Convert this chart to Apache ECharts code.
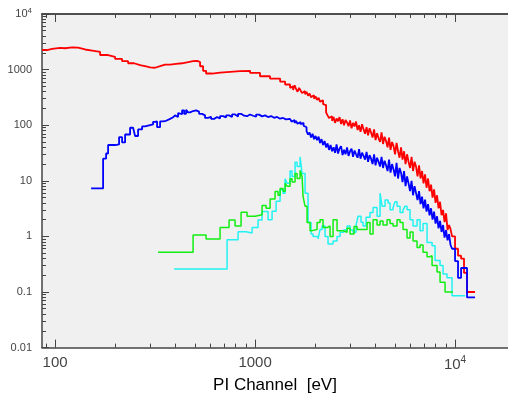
<!DOCTYPE html>
<html>
<head>
<meta charset="utf-8">
<script src="https://cdn.jsdelivr.net/npm/echarts@6/dist/echarts.min.js"></script>
<style>
  html, body { margin: 0; padding: 0; background: #fff; }
  #chart { width: 508px; height: 399px; }
</style>
</head>
<body>
<div id="chart"></div>
<script>
// spectra: [PI channel (eV), counts]
const redSpectrum = [
  [86, 2250], [91.2, 2350], [96.6, 2450], [105.9, 2420], [112.2, 2500], [121.6, 2480], [130.3, 2300], [141.3, 2200],
  [153.2, 2080], [167.9, 1830], [184.0, 1700], [199.5, 1560], [216.2, 1420], [231.8, 1300], [248.3, 1200], [266.1, 1140],
  [285.1, 1100], [298.5, 1080], [316.2, 1150], [334.9, 1230], [354.8, 1230], [375.8, 1270], [402.7, 1300], [431.5, 1360],
  [462.4, 1420], [489.8, 1440], [512.9, 1370], [530.9, 1150], [549.6, 950], [568.8, 850], [609.5, 880], [668.4, 910],
  [749.9, 940], [841.4, 950], [944.2, 870], [1059, 760], [1188, 690], [1334, 610], [1413, 540],
  [1496, 470], [1522, 500], [1549, 430], [1576, 520], [1603, 450], [1631, 400], [1660, 470], [1689, 420], [1718, 380], [1748, 410],
  [1778, 360], [1809, 400], [1841, 340], [1873, 370], [1905, 320], [1938, 345], [1972, 300], [2006, 330], [2042, 285], [2078, 310],
  [2113, 265], [2150, 280], [2188, 240], [2226, 230], [2265, 170], [2304, 150], [2344, 135], [2385, 145], [2427, 120], [2469, 140],
  [2512, 110], [2556, 132], [2600, 118], [2645, 140], [2692, 105], [2739, 128], [2786, 100], [2834, 124], [2884, 112], [2934, 96],
  [2985, 122], [3037, 88], [3090, 110], [3144, 95], [3199, 116], [3255, 82], [3311, 100], [3369, 76], [3428, 104], [3488, 84],
  [3548, 70], [3610, 92], [3673, 66], [3737, 88], [3802, 74], [3868, 60], [3936, 84], [4004, 54], [4074, 72], [4145, 58],
  [4217, 50], [4290, 74], [4365, 46], [4441, 62], [4519, 52], [4598, 40], [4677, 60], [4758, 36], [4842, 50], [4926, 42],
  [5012, 30], [5099, 48], [5188, 34], [5278, 26], [5370, 40], [5463, 24], [5559, 34], [5656, 20], [5754, 30], [5854, 22],
  [5957, 17], [6061, 27], [6166, 15], [6273, 22], [6383, 18], [6494, 12], [6607, 19], [6722, 11], [6839, 15], [6958, 9],
  [7079, 13], [7202, 7.5], [7328, 11], [7456, 6.5], [7586, 8.5], [7718, 5], [7852, 7], [7989, 4], [8128, 5.5], [8269, 3.2],
  [8414, 4.2], [8560, 2.4], [8710, 3.0], [8862, 1.8], [9016, 2.6], [9173, 1.3], [9333, 1.6], [9495, 1.35], [9661, 1.0],
  [10000, 0.6], [10350, 0.45], [10720, 0.4], [11090, 0.22], [11480, 0.1], [12590, 0.1]
]
const blueSpectrum = [
  [151.4, 7.3], [173.8, 25], [179.9, 31], [184.1, 44], [199.5, 45], [208.9, 61], [216.3, 49], [223.9, 68], [237.1, 90], [245.5, 85],
  [251.2, 64], [260.0, 84], [272.3, 95], [281.8, 100], [298.5, 103], [309.0, 115], [316.2, 117], [323.6, 92], [335.0, 117], [346.7, 120],
  [358.9, 130], [375.8, 139], [389.0, 150], [398.1, 140], [412.1, 165], [421.7, 158], [431.5, 185], [441.6, 160], [451.9, 190], [462.4, 170],
  [473.2, 180], [489.8, 185], [507.0, 175], [524.8, 160], [543.3, 150], [562.3, 135], [582.1, 142], [602.6, 130], [623.7, 140], [645.7, 132],
  [668.3, 146], [691.8, 138], [716.1, 150], [741.3, 140], [767.4, 156], [794.3, 144], [822.2, 160], [851.1, 148], [881.0, 145], [912.0, 156],
  [944.1, 148], [977.2, 142], [1012, 155], [1047, 144], [1084, 150], [1122, 140], [1161, 146], [1202, 136], [1245, 141], [1288, 131],
  [1334, 135], [1380, 127], [1429, 130],
  [1496, 128], [1522, 116], [1549, 124], [1576, 110], [1603, 120], [1631, 106], [1660, 114], [1689, 104], [1718, 110], [1748, 98],
  [1778, 92], [1809, 78], [1841, 68], [1873, 74], [1905, 60], [1938, 70], [1972, 56], [2006, 64], [2042, 54], [2078, 62],
  [2113, 48], [2150, 56], [2188, 44], [2226, 52], [2265, 40], [2304, 47], [2344, 36], [2385, 44], [2427, 34], [2469, 40],
  [2512, 32], [2556, 45], [2600, 31], [2645, 38], [2692, 42], [2739, 29], [2786, 36], [2834, 30], [2884, 40], [2934, 28],
  [2985, 34], [3037, 38], [3090, 27], [3144, 35], [3199, 30], [3255, 26], [3311, 37], [3369, 25], [3428, 32], [3488, 28],
  [3548, 24], [3610, 33], [3673, 22], [3737, 29], [3802, 25], [3868, 20], [3936, 30], [4004, 19], [4074, 26], [4145, 22],
  [4217, 18], [4290, 27], [4365, 17], [4441, 23], [4519, 19], [4598, 15], [4677, 24], [4758, 14], [4842, 20], [4926, 16],
  [5012, 12], [5099, 21], [5188, 11], [5278, 17], [5370, 14], [5463, 9.5], [5559, 15], [5656, 8], [5754, 12], [5854, 9],
  [5957, 6.5], [6061, 10], [6166, 5.5], [6273, 8], [6383, 6], [6494, 4.5], [6607, 6.5], [6722, 3.8], [6839, 5.2], [6958, 3.2],
  [7079, 4.6], [7202, 2.8], [7328, 3.8], [7456, 2.4], [7586, 3.2], [7718, 2.0], [7852, 2.8], [7989, 1.7], [8128, 2.3], [8269, 1.4],
  [8414, 1.9], [8560, 1.2], [8710, 1.6], [8862, 0.95], [9016, 1.3], [9173, 0.85], [9333, 1.1], [9495, 0.7], [9661, 0.6],
  [10000, 0.36], [10350, 0.18], [10720, 0.27], [11480, 0.08], [12590, 0.08]
]
const greenSpectrum = [
  [327.3, 0.52], [489.8, 1.06], [568.8, 0.9], [668.3, 1.44], [741.3, 1.97], [794.3, 1.54], [851.1, 2.72], [912.0, 2.3], [1000, 2.46], [1084, 3.58],
  [1135, 3.2], [1189, 4.7], [1259, 6.4], [1303, 5.5], [1334, 7.3], [1380, 6.5], [1413, 9.0], [1445, 8.0], [1496, 10.9], [1531, 9.5],
  [1585, 13.5], [1622, 11], [1679, 15.4], [1718, 12], [1738, 5.2], [1778, 3.5], [1820, 1.77], [1884, 1.27], [1928, 1.33], [2042, 1.77],
  [2113, 2.0], [2188, 1.44], [2291, 1.54], [2371, 1.0], [2455, 2.0], [2570, 1.27], [2754, 1.19], [2884, 1.4], [2985, 1.1], [3126, 1.5],
  [3236, 1.33], [3467, 1.33], [3631, 1.77], [3758, 1.1], [3890, 2.0], [4074, 1.6], [4217, 1.9], [4365, 1.6], [4571, 2.0], [4732, 1.7],
  [4898, 1.54], [5129, 2.0], [5309, 1.77], [5495, 1.33], [5754, 0.94], [5957, 1.2], [6166, 0.83], [6457, 0.63], [6683, 0.7], [6918, 0.52],
  [7244, 0.43], [7499, 0.45], [7674, 0.3], [8128, 0.23], [8414, 0.15], [8913, 0.1], [9772, 0.1]
]
const cyanSpectrum = [
  [393.6, 0.26], [724.4, 0.87], [822.2, 1.21], [901.6, 1.15], [966.1, 1.44], [1035, 1.97], [1084, 2.8], [1161, 2.0], [1216, 2.83], [1274, 4.3],
  [1334, 6.9], [1380, 6.0], [1413, 10.9], [1445, 9], [1496, 15], [1531, 12], [1585, 21.6], [1622, 18], [1679, 27], [1718, 13.5],
  [1778, 6.0], [1841, 1.77], [1905, 1.1], [1950, 1.0], [2065, 0.9], [2113, 1.33], [2163, 1.54], [2239, 1.0], [2317, 0.73], [2455, 0.83],
  [2570, 1.0], [2661, 1.19], [2780, 1.3], [2884, 1.54], [2985, 1.3], [3090, 1.19], [3199, 1.6], [3273, 2.3], [3388, 1.8], [3467, 1.54],
  [3589, 2.2], [3758, 2.7], [3890, 3.3], [4074, 2.3], [4217, 6.0], [4315, 3.5], [4467, 4.5], [4624, 4.0], [4732, 3.0], [4898, 3.3],
  [5012, 4.2], [5129, 3.5], [5309, 2.7], [5495, 3.0], [5623, 3.5], [5754, 3.0], [5957, 2.0], [6166, 1.54], [6457, 2.0], [6683, 1.27],
  [6918, 1.7], [7244, 0.78], [7674, 0.68], [7943, 0.37], [8414, 0.3], [8710, 0.21], [9120, 0.18], [9661, 0.086], [11220, 0.086]
]

// tick values
const xMajorTicks = [100, 1000, 10000]
const xMinorTicks = [90, 200, 300, 400, 500, 600, 700, 800, 900, 2000, 3000, 4000, 5000, 6000, 7000, 8000, 9000]
const yMajorTicks = [0.01, 0.1, 1, 10, 100, 1000, 10000]
const yMinorTicks = [
  0.02, 0.03, 0.04, 0.05, 0.06, 0.07, 0.08, 0.09,
  0.2, 0.3, 0.4, 0.5, 0.6, 0.7, 0.8, 0.9,
  2, 3, 4, 5, 6, 7, 8, 9,
  20, 30, 40, 50, 60, 70, 80, 90,
  200, 300, 400, 500, 600, 700, 800, 900,
  2000, 3000, 4000, 5000, 6000, 7000, 8000, 9000
]

const xRange = { min: 86, max: 18400 }
const yRange = { min: 0.01, max: 10000 }

const axisColor = '#444'
const font = 'Liberation Sans, Arial, sans-serif'

// 10^4 written with superscript, the rest plain
const fmtTick = (v) => {
  const p = Math.round(Math.log10(v))
  if (p >= 4) return '{m|10}{s|' + p + '}'
  if (p < 0) return v.toFixed(-p)
  return String(Math.round(v))
}

const xAxisBase = (pos, ticks, len, labels) => ({
  type: 'log',
  position: pos,
  min: xRange.min,
  max: xRange.max,
  axisLine: { show: labels || pos === 'top', lineStyle: { color: axisColor, width: 1.5 } },
  axisTick: { show: true, inside: true, length: len, customValues: ticks, lineStyle: { color: axisColor, width: 1 } },
  axisLabel: labels ? {
    show: true, customValues: ticks, margin: 8, color: '#444', fontSize: 15, fontFamily: font,
    formatter: fmtTick,
    rich: {
      m: { fontSize: 15, color: '#444', fontFamily: font },
      s: { fontSize: 10, color: '#444', padding: [0, 0, 8, 0], fontFamily: font }
    }
  } : { show: false },
  splitLine: { show: false }
})

const yAxisBase = (ticks, len, labels) => ({
  type: 'log',
  position: 'left',
  min: yRange.min,
  max: yRange.max,
  axisLine: { show: labels, lineStyle: { color: axisColor, width: 1.5 } },
  axisTick: { show: true, inside: true, length: len, customValues: ticks, lineStyle: { color: axisColor, width: 1 } },
  axisLabel: labels ? {
    show: true, customValues: ticks, margin: 10, color: '#444', fontSize: 11, fontFamily: font,
    formatter: fmtTick,
    rich: {
      m: { fontSize: 11, color: '#444', fontFamily: font },
      s: { fontSize: 8, color: '#444', padding: [0, 0, 6, 0], fontFamily: font }
    }
  } : { show: false },
  splitLine: { show: false }
})

const xMain = xAxisBase('bottom', xMajorTicks, 8, true)
xMain.name = 'PI Channel  [eV]'
xMain.nameLocation = 'middle'
xMain.nameGap = 28
xMain.nameTextStyle = { color: '#000', fontSize: 17, fontFamily: font }

const lineSeries = (data, color, width) => ({
  type: 'line',
  data: data,
  step: 'end',
  showSymbol: false,
  symbol: 'none',
  clip: true,
  lineStyle: { color: color, width: width },
  itemStyle: { color: color }
})

const chart = echarts.init(document.getElementById('chart'), null, { renderer: 'canvas' })
const option = {
  animation: false,
  backgroundColor: '#fff',
  grid: {
    left: 42, top: 14, right: 0, bottom: 45,
    show: true, backgroundColor: '#f0f0f0', borderWidth: 0
  },
  xAxis: [
    xMain,
    xAxisBase('bottom', xMinorTicks, 4, false),
    xAxisBase('top', xMajorTicks, 8, false),
    xAxisBase('top', xMinorTicks, 4, false)
  ],
  yAxis: [
    yAxisBase(yMajorTicks, 7, true),
    yAxisBase(yMinorTicks, 4, false)
  ],
  series: [
    lineSeries(redSpectrum, '#ff0000', 1.8),
    lineSeries(blueSpectrum, '#0000ff', 1.8),
    lineSeries(cyanSpectrum, '#22f2f2', 1.5),
    lineSeries(greenSpectrum, '#11ee11', 1.5)
  ]
}
chart.setOption(option)

window.addEventListener('resize', () => {
  chart.resize()
})
</script>
</body>
</html>
